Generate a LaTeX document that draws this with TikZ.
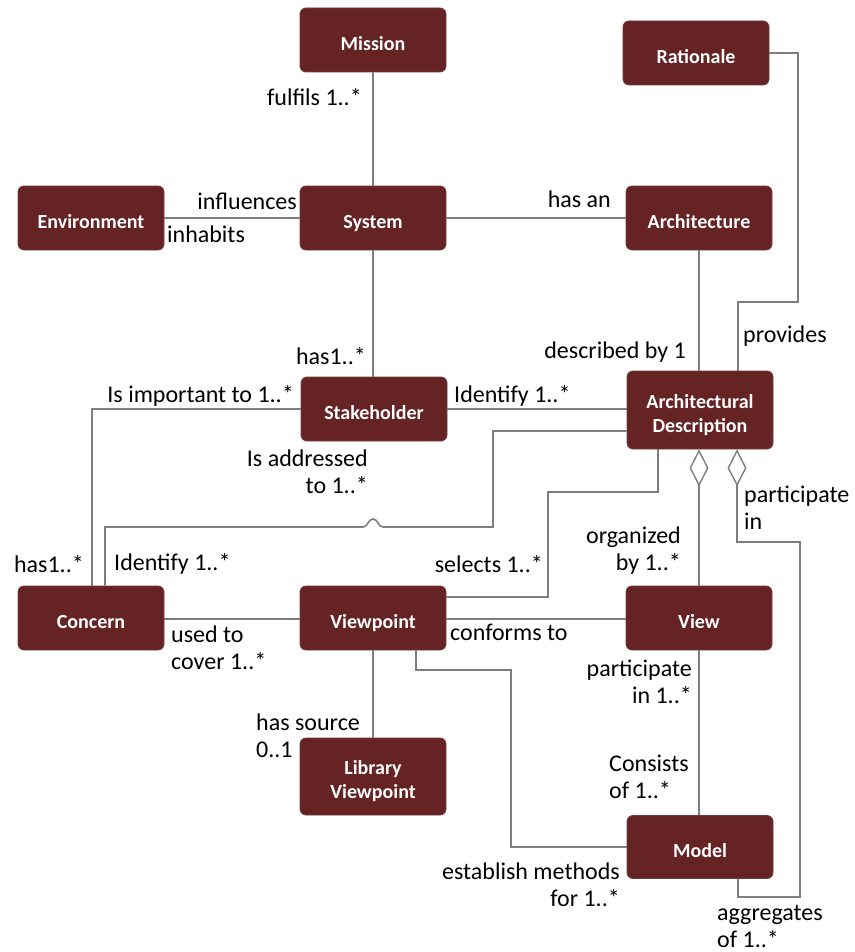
\documentclass[tikz,border=0pt]{standalone}
\usepackage{fontspec}
\setmainfont{Carlito}
\usetikzlibrary{arrows.meta}
\definecolor{boxred}{RGB}{101,35,36}
\definecolor{linkgray}{RGB}{125,125,125}
% entity caption: lines centred, set a little below the box middle
\newcommand{\entitytext}[1]{\raisebox{-5.5pt}[\height][\depth]{\begin{tabular}{@{}c@{}}#1\end{tabular}}}
\begin{document}
\begin{tikzpicture}[x=1pt,y=-1pt,
  entity/.style={rectangle, rounded corners=6pt, fill=boxred, draw=boxred!90!white,
    line width=0.8pt, minimum width=146pt, minimum height=64pt, text=white,
    font=\fontsize{20}{24}\selectfont\bfseries},
  link/.style={draw=linkgray, line width=1.6pt},
  agg/.style={link, {Diamond[open, length=37pt, width=19pt, line width=1.4pt]}-},
  lbl/.style={font=\fontsize{24}{27}\selectfont, inner sep=0pt, text=black}]

\useasboundingbox (0,0) rectangle (854,952);

% entities
\node[entity] (mission) at (373,40) {\entitytext{Mission}};
\node[entity] (rationale) at (696,53) {\entitytext{Rationale}};
\node[entity] (env) at (91,218) {\entitytext{Environment}};
\node[entity] (system) at (373,218) {\entitytext{System}};
\node[entity] (arch) at (699,218) {\entitytext{Architecture}};
\node[entity] (stake) at (374,409) {\entitytext{Stakeholder}};
\node[entity, minimum height=78pt] (ad) at (700,410) {\entitytext{Architectural\\Description}};
\node[entity] (concern) at (91,618) {\entitytext{Concern}};
\node[entity] (viewpoint) at (373,618) {\entitytext{Viewpoint}};
\node[entity] (view) at (699,618) {\entitytext{View}};
\node[entity, minimum height=77pt] (library) at (373,776.5) {\entitytext{Library\\Viewpoint}};
\node[entity, minimum height=63pt] (model) at (700,847) {\entitytext{Model}};

% bend points
\coordinate (ratA) at (798,302);
\coordinate (ratB) at (738,302);
\coordinate (concA) at (105,527);
\coordinate (hopL) at (363,527);
\coordinate (hopR) at (383,527);
\coordinate (concB) at (493,527);
\coordinate (concC) at (493,431);
\coordinate (selA) at (658,492);
\coordinate (selB) at (548,492);
\coordinate (selC) at (548,597);
\coordinate (partA) at (737,542);
\coordinate (partB) at (800,542);
\coordinate (partC) at (800,897);
\coordinate (partD) at (738,897);
\coordinate (estA) at (416,670);
\coordinate (estB) at (511,670);

% connectors
\draw[link] (mission.south) -- (system.north);
\draw[link] (env.east) -- (system.west);
\draw[link] (system.east) -- (arch.west);
\draw[link] (system.south) -- (system.south |- stake.north);
\draw[link] (arch.south) -- (arch.south |- ad.north);
\draw[link] (rationale.east) -| (ratA) -- (ratB) -- (ratB |- ad.north);
\draw[link] (stake.east) -- (stake.east -| ad.west);
\draw[link] (stake.west) -| ([xshift=1pt]concern.north);
\draw[link] (concA |- concern.north) -- (concA) -- (hopL)
  .. controls (368,527) and (368,519) .. (373,519)
  .. controls (378,519) and (378,527) .. (hopR)
  -- (concB) -- (concC) -- (concC -| ad.west);
\draw[link] (selA |- ad.south) -- (selA) -- (selB) -- (selC) -- (selC -| viewpoint.east);
\draw[agg] (view.north |- ad.south) -- (view.north);
\draw[agg] (partA |- ad.south) -- (partA) -- (partB) -- (partC) -- (partD) -- (partD |- model.south);
\draw[link] ([yshift=-1pt]concern.east) -- ([yshift=-1pt]viewpoint.west);
\draw[link] ([yshift=-1pt]viewpoint.east) -- ([yshift=-1pt]view.west);
\draw[link] (viewpoint.south) -- (library.north);
\draw[link] (estA |- viewpoint.south) -- (estA) -- (estB) -- (estB |- model.west) -- (model.west);
\draw[link] (view.south) -- (view.south |- model.north);

% association labels
\node[lbl, anchor=east] at (362,97) {fulfils 1..*};
\node[lbl, anchor=east] at (297,201) {influences};
\node[lbl, anchor=west] at (167,234) {inhabits};
\node[lbl, anchor=east] at (611,199) {has an};
\node[lbl, anchor=east] at (366,356) {has1..*};
\node[lbl, anchor=east] at (686,352) {described by 1};
\node[lbl, anchor=west] at (743,336) {provides};
\node[lbl, anchor=west] at (454,396) {Identify 1..*};
\node[lbl, anchor=east] at (294,396) {Is important to 1..*};
\node[lbl, anchor=east, align=right] at (368,472) {Is addressed\\to 1..*};
\node[lbl, anchor=east] at (84,564) {has1..*};
\node[lbl, anchor=west] at (114,564) {Identify 1..*};
\node[lbl, anchor=east] at (543,564) {selects 1..*};
\node[lbl, anchor=east, align=right] at (681,551) {organized\\by 1..*};
\node[lbl, anchor=west, align=left] at (744,508) {participate\\in};
\node[lbl, anchor=west, align=left] at (171,648) {used to\\cover 1..*};
\node[lbl, anchor=west] at (450,632) {conforms to};
\node[lbl, anchor=west, align=left] at (256,736) {has source\\0..1};
\node[lbl, anchor=east, align=right] at (692,682) {participate\\in 1..*};
\node[lbl, anchor=west, align=left] at (609,777) {Consists\\of 1..*};
\node[lbl, anchor=east, align=right] at (620,885) {establish methods\\for 1..*};
\node[lbl, anchor=west, align=left] at (717,926) {aggregates\\of 1..*};
\end{tikzpicture}
\end{document}
